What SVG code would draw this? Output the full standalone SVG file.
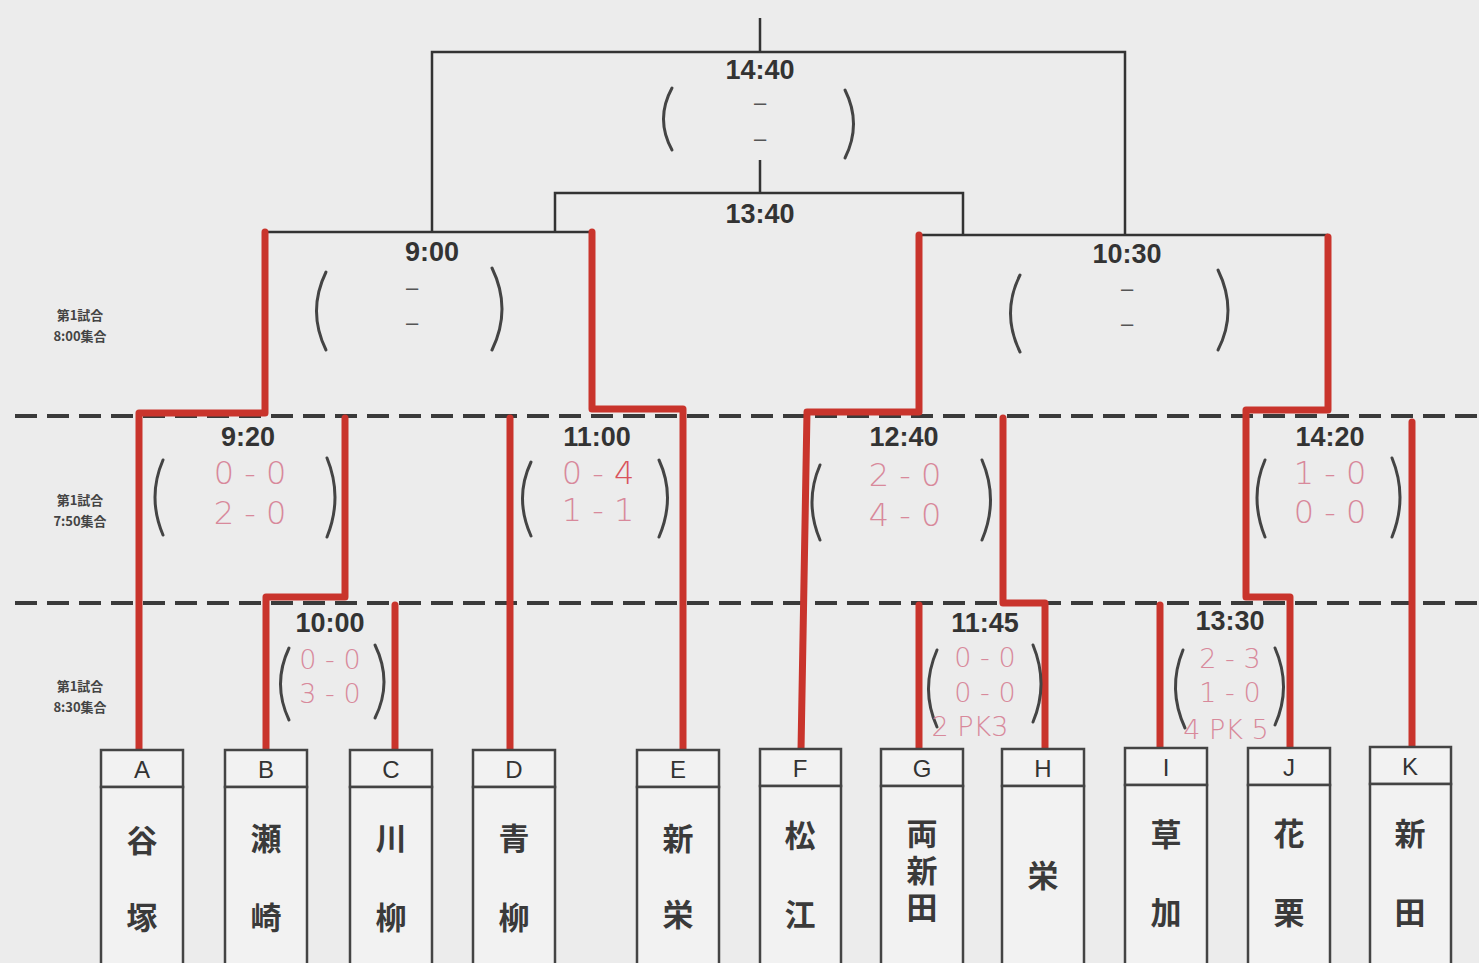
<svg xmlns="http://www.w3.org/2000/svg" width="1479" height="963" viewBox="0 0 1479 963">
<style>
.bk{stroke:#333;stroke-width:2.5;fill:none}
.rd{stroke:#c9342c;stroke-width:7;fill:none;stroke-linejoin:round;stroke-linecap:round}
.dash{stroke:#3a3a3a;stroke-width:4;stroke-dasharray:22 10;fill:none}
.par{stroke:#444;stroke-width:3;fill:none;stroke-linecap:round}
.tm{font-family:"Liberation Sans Narrow","Liberation Sans",Arial,sans-serif;font-weight:bold;font-size:27px;fill:#333;text-anchor:middle;dominant-baseline:central}
.dsh{font-family:"Liberation Sans",Arial,sans-serif;font-size:22px;fill:#555;text-anchor:middle;dominant-baseline:central}
.sc{font-family:"DejaVu Sans",sans-serif;font-weight:200;font-size:32px;fill:#d8899b;text-anchor:middle;dominant-baseline:central}
.sc2{font-family:"DejaVu Sans",sans-serif;font-weight:200;font-size:27px;fill:#d8899b;text-anchor:middle;dominant-baseline:central}
.lb{font-family:"Noto Sans CJK JP","Liberation Sans",sans-serif;font-weight:bold;font-size:13px;fill:#444;text-anchor:middle;dominant-baseline:central}
.box{stroke:#444;stroke-width:2.5;fill:#f2f2f2}
.let{font-family:"Liberation Sans",Arial,sans-serif;font-size:24px;fill:#333;text-anchor:middle;dominant-baseline:central}
.nm{font-family:"Noto Sans CJK JP",sans-serif;font-weight:bold;font-size:31px;fill:#3a3a3a;text-anchor:middle;dominant-baseline:central}
.vt{font-family:"Noto Sans CJK JP",sans-serif;font-weight:bold;font-size:31px;fill:#3a3a3a;writing-mode:vertical-rl;text-anchor:middle;letter-spacing:6px}
</style>
<rect x="0" y="0" width="1479" height="963" fill="#ececec"/>

<g id="session-labels">
<text class="lb" x="80" y="314">第1試合</text><text class="lb" x="80" y="335">8:00集合</text>
<text class="lb" x="80" y="499">第1試合</text><text class="lb" x="80" y="520">7:50集合</text>
<text class="lb" x="80" y="685">第1試合</text><text class="lb" x="80" y="706">8:30集合</text>
</g>

<g id="connectors">
<path class="dash" d="M15 416 H1479"/>
<path class="dash" d="M15 603 H1479"/>
<path class="bk" d="M760 18 V52 M432 232 V52 H1125 V235"/>
<path class="bk" d="M760 160 V193 M555 232 V193 H963 V235"/>
<path class="bk" d="M265 232 H592"/>
<path class="bk" d="M919 235 H1328"/>
<path class="rd" d="M265 232 V413 H139 V750"/>
<path class="rd" d="M345 418 V597 H266 V750"/>
<path class="rd" d="M395 605 V750"/>
<path class="rd" d="M592 232 V409 H683 V750"/>
<path class="rd" d="M510 418 V750"/>
<path class="rd" d="M919 235 V412 H807 L801 750"/>
<path class="rd" d="M1003 418 V603 H1045 V750"/>
<path class="rd" d="M919 605 V750"/>
<path class="rd" d="M1328 237 V410 H1246 V597 H1290 V750"/>
<path class="rd" d="M1160 605 V750"/>
<path class="rd" d="M1412 422 V750"/>
</g>

<g id="match-1440">
<text class="tm" x="760" y="70">14:40</text>
<path class="par" d="M672 88 Q655 119 672 150"/><path class="par" d="M845 90 Q862 124 845 158"/>
<text class="dsh" x="760" y="102">–</text><text class="dsh" x="760" y="138">–</text>
</g>
<g id="match-1340"><text class="tm" x="760" y="214">13:40</text></g>
<g id="match-900">
<text class="tm" x="432" y="252">9:00</text>
<path class="par" d="M326 272 Q307 311 326 350"/><path class="par" d="M492 268 Q512 309 492 350"/>
<text class="dsh" x="412" y="287">–</text><text class="dsh" x="412" y="322">–</text>
</g>
<g id="match-1030">
<text class="tm" x="1127" y="254">10:30</text>
<path class="par" d="M1020 275 Q1001 313 1020 352"/><path class="par" d="M1218 270 Q1238 311 1218 350"/>
<text class="dsh" x="1127" y="288">–</text><text class="dsh" x="1127" y="323">–</text>
</g>
<g id="match-920">
<text class="tm" x="248" y="437">9:20</text>
<path class="par" d="M163 460 Q147 497 163 535"/><path class="par" d="M327 458 Q343 497 327 537"/>
<text class="sc" x="250" y="473">0 - 0</text><text class="sc" x="250" y="513">2 - 0</text>
</g>
<g id="match-1100">
<text class="tm" x="597" y="437">11:00</text>
<path class="par" d="M531 462 Q514 498 531 536"/><path class="par" d="M659 460 Q676 497 659 537"/>
<text class="sc" x="598" y="473">0 -<tspan fill="#d9535c"> 4</tspan></text><text class="sc" x="598" y="510">1 - 1</text>
</g>
<g id="match-1240">
<text class="tm" x="904" y="437">12:40</text>
<path class="par" d="M820 465 Q804 502 820 540"/><path class="par" d="M982 460 Q999 500 982 540"/>
<text class="sc" x="905" y="475">2 - 0</text><text class="sc" x="905" y="515">4 - 0</text>
</g>
<g id="match-1420">
<text class="tm" x="1330" y="437">14:20</text>
<path class="par" d="M1265 460 Q1249 497 1265 537"/><path class="par" d="M1392 458 Q1408 497 1392 537"/>
<text class="sc" x="1330" y="473">1 - 0</text><text class="sc" x="1330" y="512">0 - 0</text>
</g>
<g id="match-1000">
<text class="tm" x="330" y="623">10:00</text>
<path class="par" d="M289 648 Q272 684 289 720"/><path class="par" d="M375 645 Q393 682 375 718"/>
<text class="sc2" x="330" y="659">0 - 0</text><text class="sc2" x="330" y="693">3 - 0</text>
</g>
<g id="match-1145">
<text class="tm" x="985" y="623">11:45</text>
<path class="par" d="M937 650 Q920 689 937 727"/><path class="par" d="M1033 645 Q1049 684 1033 722"/>
<text class="sc2" x="985" y="657">0 - 0</text><text class="sc2" x="985" y="692">0 - 0</text>
<text class="sc2" x="970" y="726">2 PK3</text>
</g>
<g id="match-1330">
<text class="tm" x="1230" y="621">13:30</text>
<path class="par" d="M1183 650 Q1167 689 1185 728"/><path class="par" d="M1275 648 Q1292 687 1275 725"/>
<text class="sc2" x="1230" y="658">2 - 3</text><text class="sc2" x="1230" y="692">1 - 0</text>
<text class="sc2" x="1226" y="729">4 PK 5</text>
</g>

<g id="team-A"><rect class="box" x="101" y="750" width="82" height="37"/><rect class="box" x="101" y="787" width="82" height="190"/><text class="let" x="142" y="769">A</text><text class="nm" x="142" y="838">谷</text><text class="nm" x="142" y="915">塚</text></g>
<g id="team-B"><rect class="box" x="225" y="750" width="82" height="37"/><rect class="box" x="225" y="787" width="82" height="190"/><text class="let" x="266" y="769">B</text><text class="nm" x="266" y="836">瀬</text><text class="nm" x="266" y="915">崎</text></g>
<g id="team-C"><rect class="box" x="350" y="750" width="82" height="37"/><rect class="box" x="350" y="787" width="82" height="190"/><text class="let" x="391" y="769">C</text><text class="nm" x="391" y="836">川</text><text class="nm" x="391" y="915">柳</text></g>
<g id="team-D"><rect class="box" x="473" y="750" width="82" height="37"/><rect class="box" x="473" y="787" width="82" height="190"/><text class="let" x="514" y="769">D</text><text class="nm" x="514" y="836">青</text><text class="nm" x="514" y="915">柳</text></g>
<g id="team-E"><rect class="box" x="637" y="750" width="82" height="37"/><rect class="box" x="637" y="787" width="82" height="190"/><text class="let" x="678" y="769">E</text><text class="nm" x="678" y="836">新</text><text class="nm" x="678" y="912">栄</text></g>
<g id="team-F"><rect class="box" x="760" y="749" width="81" height="37"/><rect class="box" x="760" y="786" width="81" height="190"/><text class="let" x="800" y="768">F</text><text class="nm" x="800" y="833">松</text><text class="nm" x="800" y="912">江</text></g>
<g id="team-G"><rect class="box" x="881" y="749" width="82" height="37"/><rect class="box" x="881" y="786" width="82" height="190"/><text class="let" x="922" y="768">G</text><text class="vt" x="922" y="873">両新田</text></g>
<g id="team-H"><rect class="box" x="1002" y="749" width="82" height="37"/><rect class="box" x="1002" y="786" width="82" height="190"/><text class="let" x="1043" y="768">H</text><text class="nm" x="1043" y="873">栄</text></g>
<g id="team-I"><rect class="box" x="1125" y="748" width="82" height="37"/><rect class="box" x="1125" y="785" width="82" height="190"/><text class="let" x="1166" y="767">I</text><text class="nm" x="1166" y="832">草</text><text class="nm" x="1166" y="910">加</text></g>
<g id="team-J"><rect class="box" x="1248" y="748" width="82" height="37"/><rect class="box" x="1248" y="785" width="82" height="190"/><text class="let" x="1289" y="767">J</text><text class="nm" x="1289" y="831">花</text><text class="nm" x="1289" y="910">栗</text></g>
<g id="team-K"><rect class="box" x="1370" y="747" width="81" height="37"/><rect class="box" x="1370" y="784" width="81" height="190"/><text class="let" x="1410" y="766">K</text><text class="nm" x="1410" y="831">新</text><text class="nm" x="1410" y="910">田</text></g>
</svg>
